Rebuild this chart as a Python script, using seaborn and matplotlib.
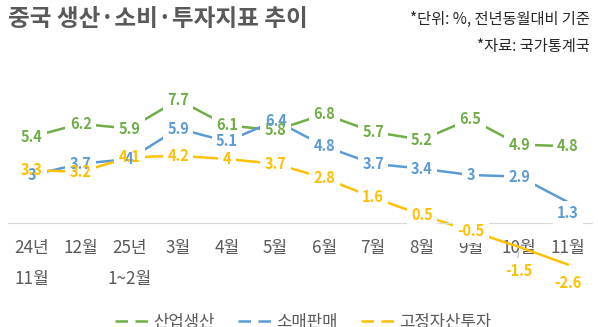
import matplotlib
matplotlib.use("Agg")
import matplotlib.pyplot as plt
import seaborn as sns
import pandas as pd
from matplotlib.lines import Line2D

# ---- data ----
categories = ["24년\n11월", "12월", "25년\n1~2월", "3월", "4월", "5월", "6월",
              "7월", "8월", "9월", "10월", "11월"]
industrial = [5.4, 6.2, 5.9, 7.7, 6.1, 5.8, 6.8, 5.7, 5.2, 6.5, 4.9, 4.8]
retail = [3, 3.7, 4, 5.9, 5.1, 6.4, 4.8, 3.7, 3.4, 3, 2.9, 1.3]
fixed_asset = [3.3, 3.2, 4.1, 4.2, 4, 3.7, 2.8, 1.6, 0.5, -0.5, -1.5, -2.6]
series_names = ["산업생산", "소매판매", "고정자산투자"]
colors = ["#70AD47", "#5B9BD5", "#FFC000"]

title = "중국 생산·소비·투자지표 추이"
note1 = "*단위: %, 전년동월대비 기준"
note2 = "*자료: 국가통계국"

sns.set_style("white")
plt.rcParams["font.family"] = ["Noto Sans CJK KR", "DejaVu Sans"]

W, H = 598, 327
fig = plt.figure(figsize=(W / 100, H / 100), dpi=100)
left_px, right_px = 7.6, 592.4
top_px, bot_px = 60, 300
ax = fig.add_axes([left_px / W, 1 - bot_px / H, (right_px - left_px) / W, (bot_px - top_px) / H])

df = pd.DataFrame({
    "pos": list(range(len(categories))) * 3,
    "value": industrial + retail + fixed_asset,
    "series": [series_names[0]] * 12 + [series_names[1]] * 12 + [series_names[2]] * 12,
})
sns.lineplot(data=df, x="pos", y="value", hue="series", palette=colors,
             hue_order=series_names, sort=False, linewidth=1.8, ax=ax,
             legend=False, zorder=2)

ax.set_xlim(-0.5, 11.5)
scale = 16.0  # px per unit
zero_px = 223
ax.set_ylim(-(bot_px - zero_px) / scale, (zero_px - top_px) / scale)

for s in ["top", "right", "left"]:
    ax.spines[s].set_visible(False)
ax.spines["bottom"].set_position(("data", 0))
ax.spines["bottom"].set_color("#D9D9D9")
ax.spines["bottom"].set_linewidth(0.8)
ax.set_yticks([])
ax.set_xticks(range(len(categories)))
ax.set_xticklabels(categories, fontsize=12.3, color="#595959", linespacing=1.95)
ax.tick_params(axis="x", length=0, pad=11.5)
ax.set_xlabel("")
ax.set_ylabel("")

# data labels
offsets = {  # (series index, point index): pixel offset downward
    (1, 11): 11,
    (2, 10): 24,
    (2, 11): 18,
}
for layer in ("box", "text"):
    for si, (vals, c) in enumerate(zip([industrial, retail, fixed_asset], colors)):
        for i, v in enumerate(vals):
            dy = offsets.get((si, i), 0)
            txt = f"{v:g}"
            kw = dict(xy=(i, v), xytext=(0, -dy * 0.72), textcoords="offset points",
                      ha="center", va="center", fontsize=10.5, fontweight="bold",
                      annotation_clip=False)
            if layer == "box":
                ax.annotate(txt, color="none", zorder=4,
                            bbox=dict(boxstyle="square,pad=0.3", fc="white", ec="none"), **kw)
            else:
                ax.annotate(txt, color=c, zorder=6, **kw)

# leader line for -1.5
ax.annotate("", xy=(10, fixed_asset[10] - 0.15), xytext=(10 - 0.04, fixed_asset[10] - 0.85),
            arrowprops=dict(arrowstyle="-", color="#A6A6A6", lw=0.6), zorder=5,
            annotation_clip=False)

# title & notes
fig.text(8 / W, 1 - 19 / H, title, fontsize=17, fontweight="bold", color="#595959",
         ha="left", va="center")
fig.text(590 / W, 1 - 19 / H, note1, fontsize=11, color="#262626", ha="right", va="center")
fig.text(590 / W, 1 - 46 / H, note2, fontsize=11, color="#262626", ha="right", va="center")

# legend
handles = [Line2D([0], [0], color=c, lw=1.8, linestyle=(0, (5, 3))) for c in colors]
fig.legend(handles, series_names, loc="center", bbox_to_anchor=(303 / W, 1 - 322 / H),
           ncol=3, frameon=False, fontsize=12, labelcolor="#595959",
           handlelength=2.0, handletextpad=0.3, columnspacing=1.4,
           borderpad=0, borderaxespad=0)

fig.savefig("out.png", dpi=100)
